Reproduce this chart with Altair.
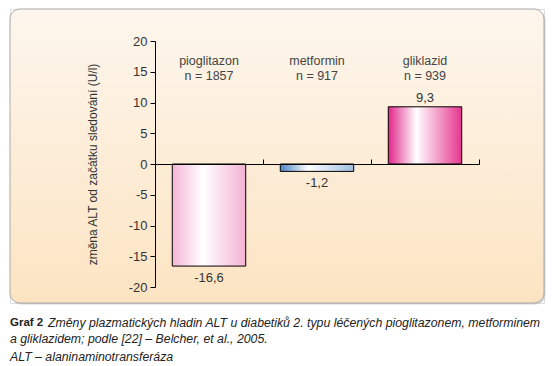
import altair as alt
import pandas as pd

categories = ["pioglitazon", "metformin", "gliklazid"]
n_values = [1857, 917, 939]
changes = [-16.6, -1.2, 9.3]
y_ticks = [-20, -15, -10, -5, 0, 5, 10, 15, 20]
y_title = "změna ALT od začátku sledování (U/l)"
caption_bold = "Graf 2"
caption_lines = [
    "Změny plazmatických hladin ALT u diabetiků 2. typu léčených pioglitazonem, metforminem",
    "a gliklazidem; podle [22] – Belcher, et al., 2005.",
    "ALT – alaninaminotransferáza",
]
bar_gradients = {
    "pioglitazon": [("#f5b6d6", 0), ("#ffffff", 0.42), ("#f3b2d3", 1)],
    "metformin": [("#4c84c5", 0), ("#ffffff", 0.38), ("#a0bee1", 1)],
    "gliklazid": [("#e2268a", 0), ("#ffffff", 0.38), ("#e5368f", 1)],
}

FONT = "Liberation Sans"
TXT = "#333333"

df = pd.DataFrame({"cat": categories, "n": n_values, "value": changes})
df["label"] = [f"{c}\nn = {n}" for c, n in zip(categories, n_values)]

xscale = alt.Scale(domain=categories, range=[145, 469], paddingInner=0, paddingOuter=0)
yscale = alt.Scale(domain=[-20, 20], range=[278, 32])

xaxis = alt.Axis(orient="top", offset=-155, labels=False, title=None, ticks=True,
                 tickSize=5, bandPosition=1, domainColor="black", tickColor="black",
                 grid=False, zindex=1)
yaxis = alt.Axis(orient="left", offset=-145, values=y_ticks, tickCount=20, tickSize=5,
                 labelOverlap=False,
                 labelFontSize=13, labelColor=TXT, labelFont=FONT, labelPadding=3,
                 labelExpr="'' + datum.value",
                 titleFontSize=12, titleFontWeight="normal", titleColor=TXT,
                 titleFont=FONT, titlePadding=29,
                 domainColor="black", tickColor="black", grid=False, zindex=1)

X = alt.X("cat:N", scale=xscale, axis=xaxis, sort=categories)
Y = alt.Y("value:Q", scale=yscale, axis=yaxis, title=y_title)

bg_grad = {"gradient": "linear", "x1": 0, "y1": 0, "x2": 0, "y2": 1,
           "stops": [{"offset": 0, "color": "#fdf6ed"}, {"offset": 1, "color": "#fce4c2"}]}

one = pd.DataFrame({"k": [0]})
shadow = alt.Chart(one).mark_rect(fill="#c4c4c4", cornerRadius=10, opacity=0.7).encode(
    x=alt.value(1.5), y=alt.value(1.5),
    x2=alt.value({"expr": "width + 1.5"}), y2=alt.value({"expr": "height + 1.5"}))
bg = alt.Chart(one).mark_rect(fill=bg_grad, stroke="#a8a8a8", strokeWidth=1, cornerRadius=10).encode(
    x=alt.value(0), x2=alt.value("width"), y=alt.value(0), y2=alt.value("height"))

layers = [shadow, bg]
for c in categories:
    g = {"gradient": "linear", "x1": 0, "y1": 0, "x2": 1, "y2": 0,
         "stops": [{"offset": o, "color": col} for col, o in bar_gradients[c]]}
    layers.append(
        alt.Chart(df).transform_filter(alt.datum.cat == c)
        .mark_bar(fill=g, stroke="black", strokeWidth=1, width={"band": 0.68})
        .encode(x=X, y=Y, y2=alt.datum(0))
    )

label_expr = "replace('' + datum.value, '.', ',')"
pos = alt.Chart(df).transform_filter("datum.value > 0").transform_calculate(
    txt=label_expr).mark_text(baseline="bottom", dy=-2, fontSize=13, font=FONT, color=TXT
    ).encode(x=X, y=Y, text="txt:N")
neg = alt.Chart(df).transform_filter("datum.value < 0").transform_calculate(
    txt=label_expr).mark_text(baseline="top", dy=6, fontSize=13, font=FONT, color=TXT
    ).encode(x=X, y=Y, text="txt:N")
cats = alt.Chart(df).mark_text(baseline="top", lineBreak="\n", lineHeight=15, fontSize=12.5,
                               font=FONT, color="#444444").encode(
    x=X, y=alt.datum(17.7), text="label:N")
layers += [pos, neg, cats]

cap_b = alt.Chart(one).mark_text(align="left", baseline="middle", fontSize=11.5, font=FONT,
                                 fontWeight="bold", color="#222222", text=caption_bold).encode(
    x=alt.value(0), y=alt.value(314))
cap1 = alt.Chart(one).mark_text(align="left", baseline="middle", fontSize=12.3, font=FONT,
                                fontStyle="italic", color="#222222", text=caption_lines[0]).encode(
    x=alt.value(38), y=alt.value(314))
cap2 = alt.Chart(one).mark_text(align="left", baseline="middle", fontSize=12.3, font=FONT,
                                fontStyle="italic", color="#222222", text=caption_lines[1]).encode(
    x=alt.value(0), y=alt.value(330))
cap3 = alt.Chart(one).mark_text(align="left", baseline="middle", fontSize=12.3, font=FONT,
                                fontStyle="italic", color="#222222", text=caption_lines[2]).encode(
    x=alt.value(0), y=alt.value(348))
layers += [cap_b, cap1, cap2, cap3]

chart = alt.layer(*layers).properties(
    width=534, height=294,
    autosize=alt.AutoSizeParams(type="none"),
    padding={"left": 2, "top": 1, "right": 6, "bottom": 60},
    background="white",
).configure_view(strokeWidth=0).configure(font=FONT)

chart.save("out.html", embed_options={"renderer": "svg", "actions": False})
